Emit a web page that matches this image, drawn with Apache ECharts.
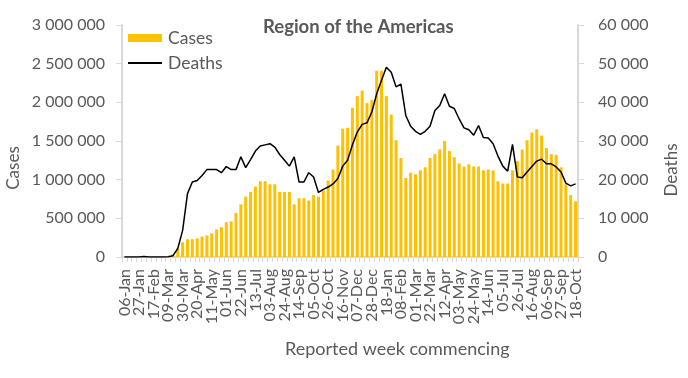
<!DOCTYPE html>
<html>
<head>
<meta charset="utf-8">
<script src="https://cdn.jsdelivr.net/npm/echarts@6/dist/echarts.min.js"></script>
<style>
html,body{margin:0;padding:0;background:#fff;}
#chart{width:688px;height:378px;}
</style>
</head>
<body>
<div id="chart"></div>
<script>
const weeks = [
"06-Jan","13-Jan","20-Jan","27-Jan","03-Feb","10-Feb","17-Feb","24-Feb","02-Mar","09-Mar",
"16-Mar","23-Mar","30-Mar","06-Apr","13-Apr","20-Apr","27-Apr","04-May","11-May","18-May",
"25-May","01-Jun","08-Jun","15-Jun","22-Jun","29-Jun","06-Jul","13-Jul","20-Jul","27-Jul",
"03-Aug","10-Aug","17-Aug","24-Aug","31-Aug","07-Sep","14-Sep","21-Sep","28-Sep","05-Oct",
"12-Oct","19-Oct","26-Oct","02-Nov","09-Nov","16-Nov","23-Nov","30-Nov","07-Dec","14-Dec",
"21-Dec","28-Dec","04-Jan","11-Jan","18-Jan","25-Jan","01-Feb","08-Feb","15-Feb","22-Feb",
"01-Mar","08-Mar","15-Mar","22-Mar","29-Mar","05-Apr","12-Apr","19-Apr","26-Apr","03-May",
"10-May","17-May","24-May","31-May","07-Jun","14-Jun","21-Jun","28-Jun","05-Jul","12-Jul",
"19-Jul","26-Jul","02-Aug","09-Aug","16-Aug","23-Aug","30-Aug","06-Sep","13-Sep","20-Sep",
"27-Sep","04-Oct","11-Oct","18-Oct"
];

const cases = [
0,0,0,0,10,5,20,50,300,3000,
30000,110000,190000,230000,230000,240000,265000,280000,305000,355000,
385000,450000,460000,570000,680000,780000,840000,910000,980000,980000,
940000,940000,840000,840000,840000,680000,760000,760000,730000,800000,
780000,860000,990000,1130000,1440000,1660000,1670000,1930000,2080000,2150000,
1990000,2030000,2410000,2410000,2080000,1840000,1510000,1280000,1020000,1090000,
1070000,1120000,1160000,1280000,1330000,1390000,1500000,1370000,1290000,1210000,
1170000,1200000,1170000,1170000,1120000,1130000,1120000,980000,950000,950000,
1120000,1240000,1390000,1510000,1610000,1650000,1570000,1410000,1330000,1320000,
1160000,950000,800000,720000
];

const deaths = [
0,0,0,0,150,0,0,0,0,60,
350,2200,6900,16400,19400,19800,21100,22600,22600,22600,
21800,23400,22600,22600,25900,23100,25200,27400,28700,29000,
29300,28400,26500,25000,23500,25900,19400,19400,21800,20700,
16700,17500,18100,18900,20300,23500,25000,29000,32300,34300,
34700,37500,42200,45700,49100,47800,44000,44700,36600,33800,
32500,31700,32500,33800,37900,39200,42200,39000,38400,35700,
33400,32900,31500,34000,30900,30800,29300,26100,23500,22200,
29100,20700,20500,22000,23400,24800,25300,24100,24100,23300,
22000,19100,18400,18900
];

const casesTicks = [0, 500000, 1000000, 1500000, 2000000, 2500000, 3000000];
const deathsTicks = [0, 10000, 20000, 30000, 40000, 50000, 60000];
const labelEvery = 3;

const FONT = 'Lato, "Open Sans", sans-serif';
const GREY = '#595959';
const AXIS = '#d9d9d9';
const fmt = v => String(v).replace(/\B(?=(\d{3})+(?!\d))/g, ' ');

const chart = echarts.init(document.getElementById('chart'), null, {renderer: 'canvas'});
chart.setOption({
  animation: false,
  backgroundColor: '#ffffff',
  textStyle: {fontFamily: FONT},
  title: [
    {text: 'Region of the Americas', left: 263, top: 18, padding: 0,
     textStyle: {fontFamily: FONT, fontSize: 18.5, fontWeight: 'bold', color: GREY}},
    {text: 'Reported week commencing', left: 285, top: 340, padding: 0,
     textStyle: {fontFamily: FONT, fontSize: 18, fontWeight: 'normal', color: GREY}}
  ],
  legend: {
    orient: 'vertical', left: 127, top: 29, padding: 0, itemGap: 7,
    itemWidth: 34, itemHeight: 8,
    textStyle: {fontFamily: FONT, fontSize: 17.5, color: GREY, padding: [0,0,0,1]},
    data: [
      {name: 'Cases', icon: 'rect'},
      {name: 'Deaths', itemStyle: {opacity: 0}, lineStyle: {color: '#000000', width: 2}}
    ]
  },
  graphic: [
    {type: 'text', x: 14, y: 168, rotation: Math.PI/2,
     style: {text: 'Cases', fill: GREY, font: '17px ' + FONT, textAlign: 'center', textVerticalAlign: 'middle'}},
    {type: 'text', x: 672, y: 170, rotation: Math.PI/2,
     style: {text: 'Deaths', fill: GREY, font: '17px ' + FONT, textAlign: 'center', textVerticalAlign: 'middle'}}
  ],
  grid: {left: 122, right: 110, top: 25, bottom: 121, containLabel: false},
  xAxis: {
    type: 'category', data: weeks, boundaryGap: true,
    axisLine: {lineStyle: {color: AXIS, width: 2}},
    axisTick: {show: true, interval: 0, length: 5, lineStyle: {color: AXIS, width: 1}},
    axisLabel: {interval: 0, rotate: 90, margin: 12, color: GREY, fontFamily: FONT, fontSize: 16,
                formatter: (v, i) => (i % labelEvery === 0 ? v : '')},
    splitLine: {show: false}
  },
  yAxis: [
    {type: 'value', min: casesTicks[0], max: casesTicks[casesTicks.length-1], interval: casesTicks[1]-casesTicks[0],
     axisLine: {show: true, lineStyle: {color: AXIS, width: 2}},
     axisTick: {show: true, length: 6, lineStyle: {color: AXIS}},
     axisLabel: {margin: 17, color: GREY, fontFamily: FONT, fontSize: 16, formatter: fmt},
     splitLine: {show: false}},
    {type: 'value', min: deathsTicks[0], max: deathsTicks[deathsTicks.length-1], interval: deathsTicks[1]-deathsTicks[0],
     position: 'right',
     axisLine: {show: true, lineStyle: {color: AXIS, width: 2}},
     axisTick: {show: true, length: 6, lineStyle: {color: AXIS}},
     axisLabel: {margin: 20, color: GREY, fontFamily: FONT, fontSize: 16, formatter: fmt},
     splitLine: {show: false}}
  ],
  series: [
    {name: 'Cases', type: 'bar', data: cases, yAxisIndex: 0,
     barCategoryGap: '38%', itemStyle: {color: '#FFC000'}},
    {name: 'Deaths', type: 'line', data: deaths, yAxisIndex: 1,
     symbol: 'none', showSymbol: false, smooth: false,
     lineStyle: {color: '#000000', width: 1.5}, itemStyle: {color: '#000000'}}
  ]
});
</script>
</body>
</html>
